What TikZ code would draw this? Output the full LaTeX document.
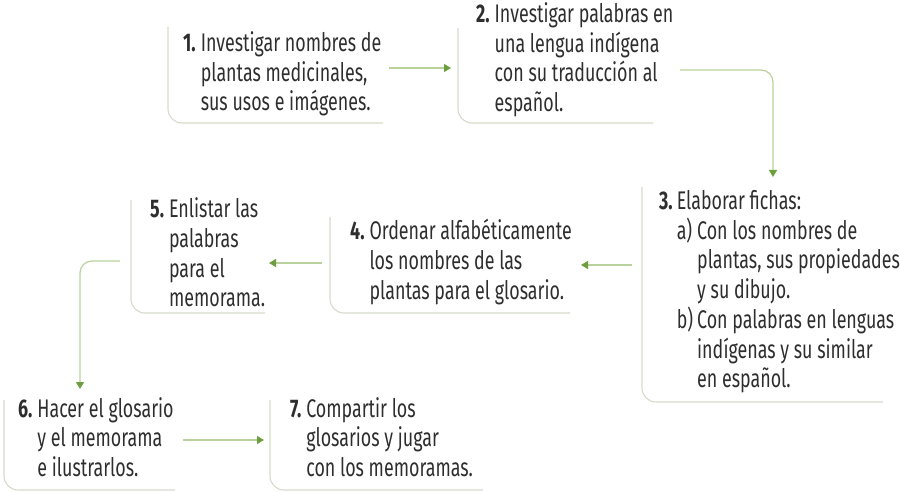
\documentclass[tikz,border=0pt]{standalone}
\usepackage{fontspec}
\setmainfont{Fira Sans}[FakeStretch=0.7]
\usetikzlibrary{arrows.meta}
\definecolor{framegray}{HTML}{D6DACB}
\definecolor{arrowline}{HTML}{B9D29C}
\definecolor{arrowtip}{HTML}{6E9F3F}
\definecolor{textgray}{HTML}{2E2E2E}
\newcommand{\stepnum}[1]{\textbf{#1.}}

\begin{document}
\begin{tikzpicture}
	[x=1pt,y=-1pt,
	frame/.style={draw=framegray,line width=1.1pt,rounded corners=14pt},
	link/.style={draw=arrowline,line width=1.2pt,rounded corners=12pt,
		-{Triangle[length=7pt,width=8pt,color=arrowtip]}},
	stepbox/.style={anchor=base west,inner sep=0pt,text=textgray,
		font=\fontsize{25.5}{29.5}\selectfont}]
	\useasboundingbox (0,0) rectangle (900,492);

	%marcos
	\draw[frame] (168,27) -- (168,123) -- (383,123);
	\draw[frame] (458,28) -- (458,123) -- (653,123);
	\draw[frame] (642,187) -- (642,402) -- (883,402);
	\draw[frame] (330,217) -- (330,313) -- (570,313);
	\draw[frame] (131,200) -- (131,313) -- (265,313);
	\draw[frame] (4,400) -- (4,490) -- (175,490);
	\draw[frame] (270,400) -- (270,490) -- (483,490);

	%pasos
	\node (s1) at (183,52) [stepbox] {\begin{tabular}[t]{@{}l@{\hspace{5pt}}l@{}}
		\stepnum{1} & Investigar nombres de\\ & plantas medicinales,\\ & sus usos e imágenes.\end{tabular}};
	\node (s2) at (476,23) [stepbox] {\begin{tabular}[t]{@{}l@{\hspace{5pt}}l@{}}
		\stepnum{2} & Investigar palabras en\\ & una lengua indígena\\ & con su traducción al\\ & español.\end{tabular}};
	\node (s3) at (659,209) [stepbox] {\begin{tabular}[t]{@{}l@{\hspace{4pt}}l@{\hspace{4pt}}l@{}}
		\stepnum{3} & \multicolumn{2}{@{}l@{}}{Elaborar fichas:}\\
		& a) & Con los nombres de\\ & & plantas, sus propiedades\\ & & y su dibujo.\\
		& b) & Con palabras en lenguas\\ & & indígenas y su similar\\ & & en español.\end{tabular}};
	\node (s4) at (350,240) [stepbox] {\begin{tabular}[t]{@{}l@{\hspace{5pt}}l@{}}
		\stepnum{4} & Ordenar alfabéticamente\\ & los nombres de las\\ & plantas para el glosario.\end{tabular}};
	\node (s5) at (150,218) [stepbox] {\begin{tabular}[t]{@{}l@{\hspace{5pt}}l@{}}
		\stepnum{5} & Enlistar las\\ & palabras\\ & para el\\ & memorama.\end{tabular}};
	\node (s6) at (18,417) [stepbox] {\begin{tabular}[t]{@{}l@{\hspace{5pt}}l@{}}
		\stepnum{6} & Hacer el glosario\\ & y el memorama\\ & e ilustrarlos.\end{tabular}};
	\node (s7) at (290,417) [stepbox] {\begin{tabular}[t]{@{}l@{\hspace{5pt}}l@{}}
		\stepnum{7} & Compartir los\\ & glosarios y jugar\\ & con los memoramas.\end{tabular}};

	%flechas
	\coordinate (a1) at (389,68);  \coordinate (b1) at (451,68);
	\coordinate (a2) at (680,70);  \coordinate (b2) at (773,177);
	\coordinate (a3) at (632,265); \coordinate (b3) at (581,265);
	\coordinate (a4) at (322,263); \coordinate (b4) at (269,263);
	\coordinate (a5) at (120,261); \coordinate (b5) at (80,389);
	\coordinate (a6) at (183,440); \coordinate (b6) at (264,440);
	\draw[link] (a1) -- (b1);
	\draw[link] (a2) -| (b2);
	\draw[link] (a3) -- (b3);
	\draw[link] (a4) -- (b4);
	\draw[link] (a5) -| (b5);
	\draw[link] (a6) -- (b6);
\end{tikzpicture}
\end{document}
